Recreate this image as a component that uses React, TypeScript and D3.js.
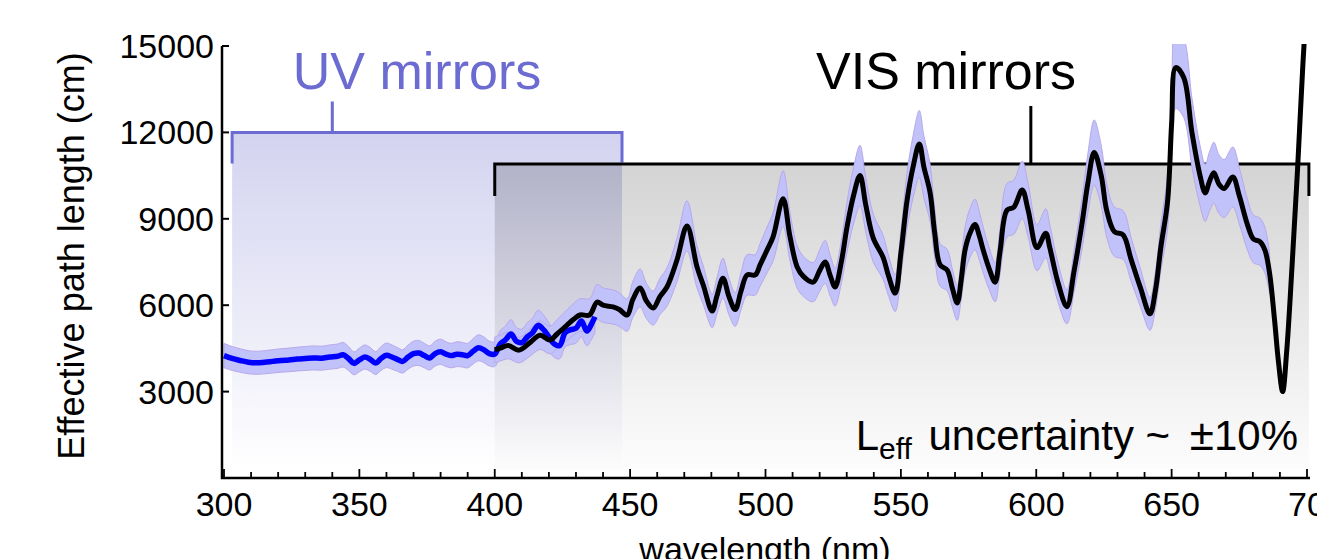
import React from "react";
import * as d3 from "d3";

// UV-mirror measurement (blue)
const uvWavelengths = [300, 303, 306, 309, 312, 315, 318, 321, 324, 327, 330, 333, 336, 339, 342, 344, 346, 348, 350, 352, 354, 356, 358, 360, 362, 364, 366, 368, 370, 372, 374, 376, 378, 380, 382, 384, 386, 388, 390, 392, 394, 396, 398, 400, 402, 404, 406, 408, 410, 412, 414, 416, 418, 420, 422, 424, 426, 428, 430, 432, 434, 436, 437];
const uvPathLength = [4250, 4150, 4080, 4020, 4000, 4020, 4050, 4080, 4100, 4130, 4150, 4170, 4160, 4200, 4230, 4280, 4150, 3980, 4100, 4200, 4120, 3990, 4150, 4260, 4200, 4120, 4050, 4200, 4320, 4340, 4250, 4170, 4320, 4380, 4300, 4250, 4300, 4280, 4250, 4400, 4520, 4450, 4320, 4300, 4650, 4800, 5000, 4750, 4700, 4900, 5050, 5300, 5150, 4900, 4650, 4600, 5050, 5150, 5200, 5450, 5100, 5400, 5600];

// VIS-mirror measurement (black)
const visWavelengths = [400, 402, 405, 409, 413, 416.7, 420.4, 423, 426.7, 429, 431.5, 435, 437.8, 440, 443.7, 446, 448.9, 451, 453.7, 456, 458.5, 461, 463.6, 467.3, 471, 474.7, 477, 480.3, 482, 484.3, 486.5, 488.8, 491, 493.2, 496.2, 498, 500.6, 502.8, 506.5, 509, 511.7, 514, 517.6, 520, 522, 524, 525.7, 528, 530.1, 532.5, 534.9, 537, 539.8, 543.4, 545.5, 547.9, 550, 552.3, 554.5, 556.8, 558.5, 560.8, 562.5, 564.5, 567.1, 569, 570.8, 572.3, 573.7, 575.5, 577.4, 579, 580.4, 582.5, 584.8, 586.6, 589.2, 591.7, 594.8, 597, 600.3, 603.5, 605, 608, 611.3, 614, 617, 619, 621.4, 624, 626, 628.9, 632.1, 635, 638.5, 642, 644, 646, 648.5, 650, 651.5, 654.5, 657.5, 660.5, 662.4, 664, 665.6, 667.5, 669.4, 672.6, 675, 678, 680.2, 682.7, 684.5, 686.2, 688, 689.5, 691, 692.5, 694.5, 696.5, 698.5, 700.5];
const visPathLength = [4450, 4510, 4600, 4440, 4700, 4960, 4790, 5000, 5310, 5500, 5660, 5660, 6110, 6000, 5940, 5850, 5660, 6200, 6600, 6150, 5900, 6300, 6630, 7570, 8750, 7330, 6700, 5800, 6300, 6940, 6300, 5850, 6500, 7050, 7050, 7400, 7920, 8370, 9700, 8400, 7330, 7000, 6800, 7200, 7500, 7000, 6630, 7500, 8710, 9800, 10500, 9500, 8330, 7670, 7000, 6420, 7800, 9650, 10800, 11600, 10800, 9900, 8500, 7400, 7220, 6600, 6080, 6900, 7920, 8500, 8800, 8400, 7920, 7300, 6800, 7850, 9300, 9400, 10000, 9300, 8000, 8500, 8000, 6800, 5950, 7200, 8900, 10200, 11300, 10500, 9300, 8550, 8440, 7600, 6600, 5700, 6500, 8000, 9600, 12300, 14250, 13900, 12000, 10500, 9900, 10300, 10600, 10200, 10050, 10450, 9800, 8800, 8300, 8200, 7900, 7100, 5500, 4000, 3000, 4400, 7400, 10700, 14400, 17500];

const uncertaintyFraction = 0.1;
const bandEndNm = 686.5;

const xTicksMajor = [300, 350, 400, 450, 500, 550, 600, 650, 700];
const xTickLabels = ["300", "350", "400", "450", "500", "550", "600", "650", "70"];
const yTicks = [3000, 6000, 9000, 12000, 15000];

const W = 1317;
const H = 559;

export default function App() {
  const x = d3.scaleLinear().domain([300, 700]).range([224, 1307]);
  const y = d3.scaleLinear().domain([0, 15000]).range([478, 46]);

  const uv = uvWavelengths.map((w, i) => ({ w, v: uvPathLength[i] }));
  const vis = visWavelengths.map((w, i) => ({ w, v: visPathLength[i] }));

  const line = d3
    .line<{ w: number; v: number }>()
    .x((d) => x(d.w))
    .y((d) => y(d.v))
    .curve(d3.curveCatmullRom.alpha(0.5));
  const area = d3
    .area<{ w: number; v: number }>()
    .x((d) => x(d.w))
    .y0((d) => y(d.v * (1 - uncertaintyFraction)))
    .y1((d) => y(d.v * (1 + uncertaintyFraction)))
    .curve(d3.curveCatmullRom.alpha(0.5));

  const minorTicks = d3.range(300, 701, 10);
  const font = "Liberation Sans, Arial, Helvetica, sans-serif";

  const uvX0 = x(303);
  const uvX1 = x(447);
  const visX0 = x(400);
  const visX1 = x(700.7);
  const uvTop = y(12000);
  const visTop = y(10900);
  const fillBottom = 470;

  return (
    <svg
      width={W}
      height={H}
      style={{ position: "absolute", left: 0, top: 0, background: "#fff" }}
      fontFamily={font}
    >
      <defs>
        <linearGradient id="uvGrad" x1="0" y1="0" x2="0" y2="1">
          <stop offset="0" stopColor="#d3d3f0" />
          <stop offset="1" stopColor="#ffffff" />
        </linearGradient>
        <linearGradient id="visGrad" x1="0" y1="0" x2="0" y2="1">
          <stop offset="0" stopColor="#000" stopOpacity={0.17} />
          <stop offset="1" stopColor="#000" stopOpacity={0.01} />
        </linearGradient>
        <clipPath id="plotClip">
          <rect x={222} y={44} width={1100} height={436} />
        </clipPath>
      </defs>

      {/* shaded mirror regions */}
      <rect x={uvX0} y={uvTop} width={uvX1 - uvX0} height={fillBottom - uvTop} fill="url(#uvGrad)" />
      <rect x={visX0} y={visTop} width={visX1 - visX0} height={fillBottom - visTop} fill="url(#visGrad)" />

      {/* UV bracket */}
      <path
        d={`M${uvX0},${uvTop + 31}V${uvTop}H${uvX1}V${uvTop + 30}M${x(340)},${uvTop}V${uvTop - 31}`}
        fill="none"
        stroke="#6b6bd2"
        strokeWidth={3}
      />
      <text x={417} y={89} fontSize={52} textAnchor="middle" fill="#6b6bd2">
        UV mirrors
      </text>

      {/* VIS bracket */}
      <path
        d={`M${visX0},${visTop + 32}V${visTop}H${visX1}V${visTop + 32}M${x(598)},${visTop}V${visTop - 58}`}
        fill="none"
        stroke="#000"
        strokeWidth={3}
      />
      <text x={946} y={89} fontSize={52} textAnchor="middle" fill="#000">
        VIS mirrors
      </text>

      {/* uncertainty bands */}
      <g clipPath="url(#plotClip)">
        <path d={area(uv) || ""} fill="#c2c2fa" stroke="#b8a8ea" strokeWidth={1} />
        <path
          d={area(vis.filter((d) => d.w <= bandEndNm)) || ""}
          fill="#c2c2fa"
          stroke="#b8a8ea"
          strokeWidth={1}
        />
        <path d={line(uv) || ""} fill="none" stroke="#0000ff" strokeWidth={5.5} strokeLinejoin="round" />
        <path d={line(vis) || ""} fill="none" stroke="#000" strokeWidth={5} strokeLinejoin="round" />
      </g>

      {/* axes */}
      <path d={`M222,46V478H1310`} fill="none" stroke="#000" strokeWidth={2.5} />
      {yTicks.map((t) => (
        <g key={t}>
          <line x1={222} x2={229} y1={y(t)} y2={y(t)} stroke="#000" strokeWidth={2} />
          <text x={214} y={y(t) + 12} fontSize={34} textAnchor="end" fill="#000">
            {t}
          </text>
        </g>
      ))}
      {minorTicks.map((t) => (
        <line
          key={t}
          x1={x(t)}
          x2={x(t)}
          y1={478}
          y2={t % 50 === 0 ? 469 : 472}
          stroke="#000"
          strokeWidth={1.8}
        />
      ))}
      {xTicksMajor.map((t, i) => (
        <text key={t} x={x(t)} y={516} fontSize={34} textAnchor="middle" fill="#000">
          {xTickLabels[i]}
        </text>
      ))}
      <text x={765} y={561} fontSize={34} textAnchor="middle" fill="#000">
        wavelength (nm)
      </text>
      <text
        transform={`translate(84,${256}) rotate(-90)`}
        fontSize={36}
        textAnchor="middle"
        fill="#000"
      >
        Effective path length (cm)
      </text>

      <text x={1298} y={450} fontSize={42} textAnchor="end" fill="#000">
        L<tspan fontSize={30} dy={9}>eff</tspan>
        <tspan dy={-9} dx={5}> uncertainty ~ </tspan>
        <tspan dx={8} fontSize={44}>±</tspan>
        <tspan>10%</tspan>
      </text>
    </svg>
  );
}
